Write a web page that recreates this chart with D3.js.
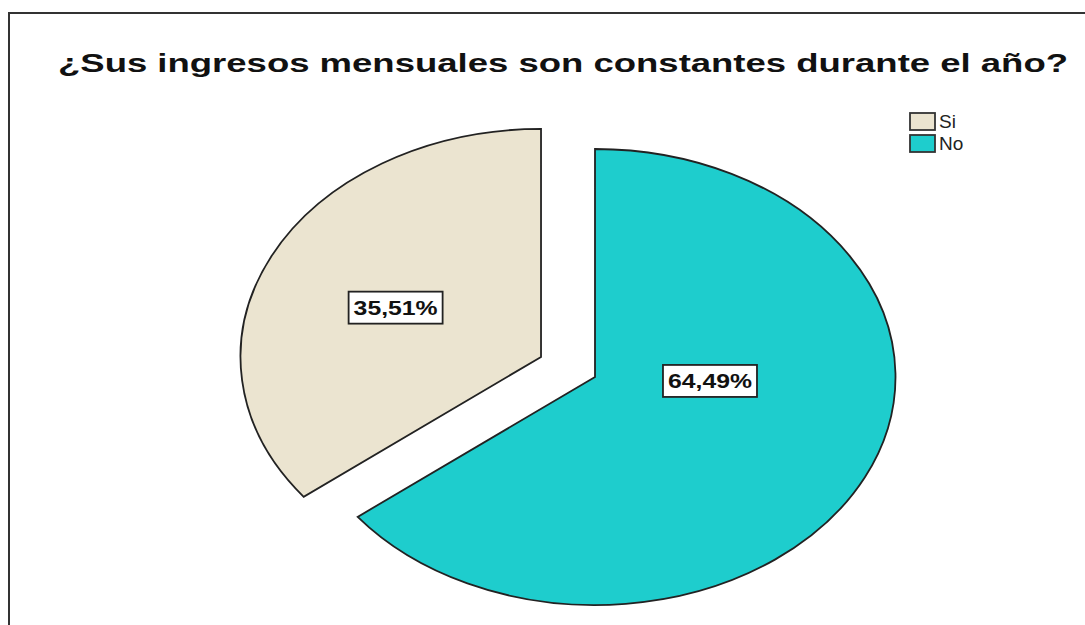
<!DOCTYPE html>
<html>
<head>
<meta charset="utf-8">
<script src="https://cdn.jsdelivr.net/npm/d3@7"></script>
<style>
  html, body { margin: 0; padding: 0; background: #fff; }
  svg { display: block; }
</style>
</head>
<body>
<svg id="chart" width="1085" height="625"></svg>
<script>
// ---- data ----
const title = "¿Sus ingresos mensuales son constantes durante el año?";
const categories = ["Si", "No"];
const values = [35.51, 64.49];
const labels = ["35,51%", "64,49%"];
const colors = ["#ebe4d0", "#1ecdcd"];

// ---- layout ----
const W = 1085, H = 625;
const cx = 595, cy = 377;      // centre of the unexploded pie
const ry = 228;                // vertical radius
const stretch = 1.318;         // horizontal stretch of the picture
const explode = 0.2;           // explode fraction for the "Si" slice
// label placement: [radius fraction, angle shift (deg)] per slice
const labelPlace = [[0.53, -2], [0.383, -23.5]];

const svg = d3.select("#chart");

// frame
svg.append("rect")
  .attr("x", 9).attr("y", 13).attr("width", W + 20).attr("height", H + 20)
  .attr("fill", "#fff").attr("stroke", "#333").attr("stroke-width", 2);

// title
svg.append("text")
  .attr("x", 58).attr("y", 72)
  .attr("font-family", "Liberation Sans, Arial, sans-serif")
  .attr("font-weight", "bold")
  .attr("font-size", 25)
  .attr("textLength", 1010)
  .attr("lengthAdjust", "spacingAndGlyphs")
  .attr("fill", "#111")
  .text(title);

// pie (counter-clockwise from 12 o'clock, SPSS style)
const pie = d3.pie().sort(null).value(d => d).startAngle(0).endAngle(-2 * Math.PI);
const arcs = pie(values);
const arc = d3.arc().innerRadius(0).outerRadius(ry);

const g = svg.append("g");
arcs.forEach((a, i) => {
  const mid = (a.startAngle + a.endAngle) / 2;
  const ex = i === 0 ? explode : 0;
  const dx = Math.sin(mid) * ry * ex * stretch;
  const dy = -Math.cos(mid) * ry * ex;
  const sg = g.append("g")
    .attr("transform", `translate(${cx + dx},${cy + dy}) scale(${stretch},1)`);
  sg.append("path")
    .attr("d", arc(a))
    .attr("fill", colors[i])
    .attr("stroke", "#222")
    .attr("stroke-width", 1.8)
    .attr("stroke-linejoin", "miter")
    .attr("vector-effect", "non-scaling-stroke");

  // label
  const [rf, shift] = labelPlace[i];
  const la = mid + shift * Math.PI / 180;
  const lx = cx + dx + Math.sin(la) * ry * rf * stretch;
  const ly = cy + dy - Math.cos(la) * ry * rf;
  const lg = svg.append("g").attr("transform", `translate(${lx},${ly})`);
  lg.append("text")
    .attr("text-anchor", "middle")
    .attr("dy", "0.36em")
    .attr("font-family", "Liberation Sans, Arial, sans-serif")
    .attr("font-weight", "bold")
    .attr("font-size", 20)
    .attr("textLength", 84)
    .attr("lengthAdjust", "spacingAndGlyphs")
    .attr("fill", "#111")
    .text(labels[i]);
  lg.insert("rect", "text")
    .attr("x", -47).attr("y", -16).attr("width", 94).attr("height", 32)
    .attr("fill", "#fff").attr("stroke", "#222").attr("stroke-width", 1.8);
});

// legend
const lgd = svg.append("g").attr("transform", "translate(910,113)");
categories.forEach((c, i) => {
  const row = lgd.append("g").attr("transform", `translate(0,${i * 22})`);
  row.append("rect")
    .attr("x", 0).attr("y", 0).attr("width", 25).attr("height", 17)
    .attr("fill", colors[i]).attr("stroke", "#333").attr("stroke-width", 1.8);
  row.append("text")
    .attr("x", 29).attr("y", 15)
    .attr("font-family", "Liberation Sans, Arial, sans-serif")
    .attr("font-size", 19)
    .attr("fill", "#222")
    .text(c);
});
</script>
</body>
</html>
